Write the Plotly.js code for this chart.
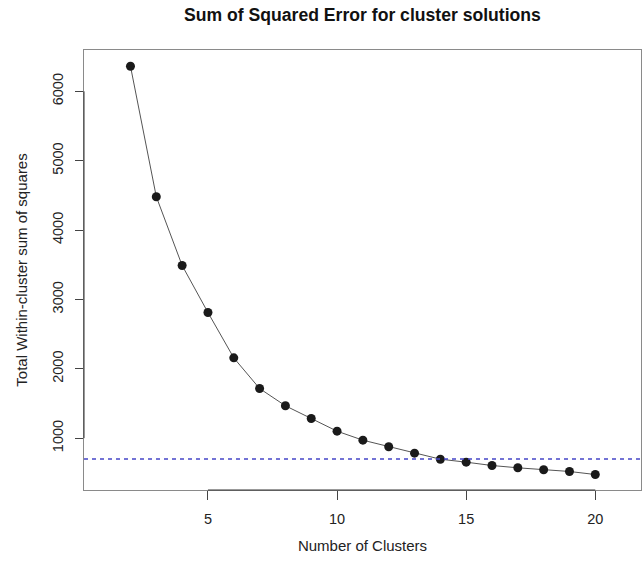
<!DOCTYPE html>
<html>
<head>
<meta charset="utf-8">
<script src="https://cdn.plot.ly/plotly-3.0.1.min.js"></script>
<style>html,body{margin:0;padding:0;background:#fff}#chart{width:642px;height:564px}</style>
</head>
<body>
<div id="chart"></div>
<script>
const clusters = [2,3,4,5,6,7,8,9,10,11,12,13,14,15,16,17,18,19,20];
const wss = [6362,4481,3490,2812,2158,1716,1467,1284,1101,971,876,784,697,654,606,573,545,520,476];
const threshold = 700;
const xTicks = [5,10,15,20];
const yTicks = [1000,2000,3000,4000,5000,6000];

const font = "Liberation Sans, Arial, Helvetica, sans-serif";

const traces = [
  {
    x: clusters, y: wss, type: 'scatter', mode: 'lines+markers',
    line: {color: '#555555', width: 1},
    marker: {color: '#1a1a1a', size: 9},
    showlegend: false, hoverinfo: 'x+y'
  }
];

const layout = {
  width: 642, height: 564,
  margin: {l: 84, r: 1, t: 50, b: 74},
  paper_bgcolor: '#ffffff', plot_bgcolor: '#ffffff',
  font: {family: font, color: '#222222', size: 14},
  title: {
    text: '<b>Sum of Squared Error for cluster solutions</b>',
    font: {family: font, size: 17.6, color: '#111111'},
    x: 0.5, xref: 'paper', xanchor: 'center',
    y: 0.973, yref: 'container', yanchor: 'middle'
  },
  xaxis: {
    range: [0.2, 21.77], tickvals: xTicks, ticktext: xTicks.map(String),
    showgrid: false, zeroline: false,
    showline: true, mirror: true, linecolor: '#8a8a8a', linewidth: 1,
    ticks: 'outside', ticklen: 9, tickcolor: '#444444', tickwidth: 1,
    ticklabelstandoff: 7,
    tickfont: {size: 14.5, color: '#222222'},
    title: {text: 'Number of Clusters', font: {size: 15, color: '#222222'}, standoff: 14}
  },
  yaxis: {
    range: [253, 6596], tickvals: yTicks, ticktext: yTicks.map(String),
    showgrid: false, zeroline: false,
    showline: true, mirror: true, linecolor: '#8a8a8a', linewidth: 1,
    ticks: 'outside', ticklen: 8, tickcolor: '#444444', tickwidth: 1,
    tickangle: -90,
    ticklabelstandoff: 6,
    tickfont: {size: 14.5, color: '#222222'},
    title: {text: 'Total Within-cluster sum of squares', font: {size: 15, color: '#222222'}, standoff: 18}
  },
  shapes: [
    {type: 'line', xref: 'paper', x0: 0, x1: 1, yref: 'y', y0: threshold, y1: threshold,
     line: {color: '#4646c8', width: 1.5, dash: '4px,4px'}},
    {type: 'line', xref: 'x', x0: xTicks[0], x1: xTicks[xTicks.length-1], yref: 'paper', y0: 0, y1: 0,
     line: {color: '#333333', width: 1}},
    {type: 'line', yref: 'y', y0: yTicks[0], y1: yTicks[yTicks.length-1], xref: 'paper', x0: 0, x1: 0,
     line: {color: '#333333', width: 1}}
  ]
};

Plotly.newPlot('chart', traces, layout, {displayModeBar: false, staticPlot: true});
</script>
</body>
</html>
